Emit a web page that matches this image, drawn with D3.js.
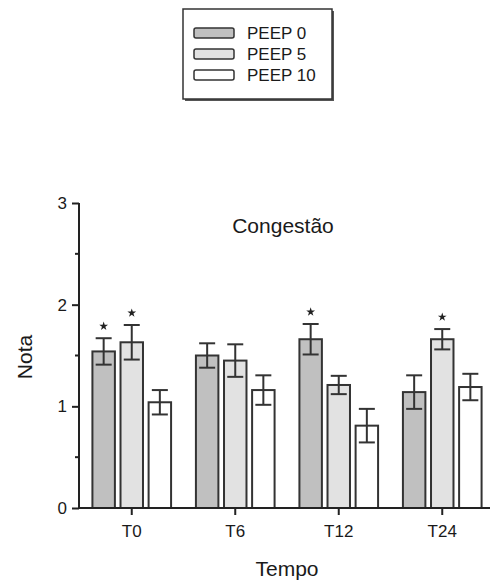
<!DOCTYPE html>
<html>
<head>
<meta charset="utf-8">
<script src="https://cdn.jsdelivr.net/npm/d3@7"></script>
<style>
  body { margin: 0; background: #fff; }
  text { font-family: "Liberation Sans", Arial, sans-serif; fill: #1a1a1a; }
</style>
</head>
<body>
<svg id="chart" width="491" height="583"></svg>
<script>
// data
var categories = ["T0", "T6", "T12", "T24"];
var series = ["PEEP 0", "PEEP 5", "PEEP 10"];
var peep0 = [1.54, 1.50, 1.66, 1.14];
var peep5 = [1.63, 1.45, 1.21, 1.66];
var peep10 = [1.04, 1.16, 0.81, 1.19];
var err0 = [0.13, 0.12, 0.15, 0.165];
var err5 = [0.17, 0.16, 0.09, 0.10];
var err10 = [0.12, 0.145, 0.165, 0.13];
// significance markers (1 = star)
var sig0 = [1, 0, 1, 0];
var sig5 = [1, 0, 0, 1];
var sig10 = [0, 0, 0, 0];
var yTicks = [0, 1, 2, 3];
var yMinor = [0.5, 1.5, 2.5];

var values = [peep0, peep5, peep10];
var errors = [err0, err5, err10];
var sigs = [sig0, sig5, sig10];
var fills = ["#c0c0c0", "#e2e2e2", "#ffffff"];

var svg = d3.select("#chart");

var x0 = d3.scaleBand()
  .domain(categories)
  .range([80, 494])
  .paddingInner(0.24)
  .paddingOuter(0.12);

var x1 = d3.scaleBand()
  .domain(series)
  .range([0, x0.bandwidth()])
  .paddingInner(0.2);

var y = d3.scaleLinear()
  .domain([0, 3])
  .range([508, 203]);

var color = d3.scaleOrdinal().domain(series).range(fills);

// flatten into one record per bar
var bars = [];
categories.forEach(function(c, i) {
  series.forEach(function(s, j) {
    bars.push({cat: c, ser: s, v: values[j][i], e: errors[j][i], sig: sigs[j][i]});
  });
});

var g = svg.append("g");

// bars
g.selectAll("rect.bar")
  .data(bars)
  .join("rect")
  .attr("class", "bar")
  .attr("x", function(d) { return x0(d.cat) + x1(d.ser); })
  .attr("y", function(d) { return y(d.v); })
  .attr("width", x1.bandwidth())
  .attr("height", function(d) { return y(0) - y(d.v); })
  .attr("fill", function(d) { return color(d.ser); })
  .attr("stroke", "#333")
  .attr("stroke-width", 2);

// error bars
var capW = 8;
var eb = g.selectAll("g.err")
  .data(bars)
  .join("g")
  .attr("class", "err")
  .attr("transform", function(d) { return "translate(" + (x0(d.cat) + x1(d.ser) + x1.bandwidth() / 2) + ",0)"; })
  .attr("stroke", "#333")
  .attr("stroke-width", 2);

eb.append("line")
  .attr("y1", function(d) { return y(d.v - d.e); })
  .attr("y2", function(d) { return y(d.v + d.e); });
eb.append("line")
  .attr("x1", -capW).attr("x2", capW)
  .attr("y1", function(d) { return y(d.v + d.e); })
  .attr("y2", function(d) { return y(d.v + d.e); });
eb.append("line")
  .attr("x1", -capW).attr("x2", capW)
  .attr("y1", function(d) { return y(d.v - d.e); })
  .attr("y2", function(d) { return y(d.v - d.e); });

// stars
g.selectAll("path.star")
  .data(bars.filter(function(d) { return d.sig; }))
  .join("path")
  .attr("class", "star")
  .attr("d", d3.symbol().type(d3.symbolStar).size(24))
  .attr("transform", function(d) {
    return "translate(" + (x0(d.cat) + x1(d.ser) + x1.bandwidth() / 2) + "," + (y(d.v + d.e) - 12) + ")";
  })
  .attr("fill", "#222");

// y axis
var yAxis = svg.append("g")
  .attr("transform", "translate(79,0)")
  .call(d3.axisLeft(y).tickValues(yTicks).tickFormat(d3.format("d")).tickSize(7).tickPadding(5));
yAxis.select(".domain").attr("d", "M0," + y(0) + "V" + y(3)).attr("stroke", "#222").attr("stroke-width", 2);
yAxis.selectAll(".tick line").attr("stroke", "#222").attr("stroke-width", 2);
yAxis.selectAll("text").style("font-size", "17px").attr("fill", "#1a1a1a");

svg.append("g")
  .attr("transform", "translate(79,0)")
  .selectAll("line")
  .data(yMinor)
  .join("line")
  .attr("x1", -4).attr("x2", 0)
  .attr("y1", function(d) { return y(d); })
  .attr("y2", function(d) { return y(d); })
  .attr("stroke", "#222").attr("stroke-width", 2);

// x axis
var xAxis = svg.append("g")
  .attr("transform", "translate(0," + y(0) + ")")
  .call(d3.axisBottom(x0).tickSize(7).tickPadding(10));
xAxis.select(".domain").attr("d", "M78,0H490").attr("stroke", "#222").attr("stroke-width", 2);
xAxis.selectAll(".tick line").attr("stroke", "#222").attr("stroke-width", 2);
xAxis.selectAll("text").style("font-size", "17px").attr("fill", "#1a1a1a");

// titles
svg.append("text")
  .attr("x", 283).attr("y", 233)
  .attr("text-anchor", "middle")
  .style("font-size", "21px")
  .text("Congestão");

svg.append("text")
  .attr("x", 287).attr("y", 576)
  .attr("text-anchor", "middle")
  .style("font-size", "21px")
  .text("Tempo");

svg.append("text")
  .attr("transform", "translate(32,357) rotate(-90)")
  .attr("text-anchor", "middle")
  .style("font-size", "21px")
  .text("Nota");

// legend
var leg = svg.append("g");
leg.append("rect")
  .attr("x", 185).attr("y", 11).attr("width", 149).attr("height", 90)
  .attr("fill", "#555");
leg.append("rect")
  .attr("x", 183).attr("y", 9).attr("width", 149).attr("height", 90)
  .attr("fill", "#fff").attr("stroke", "#333").attr("stroke-width", 1.5);

var legY = d3.scalePoint().domain(series).range([33, 75]);
var items = leg.selectAll("g.item")
  .data(series)
  .join("g")
  .attr("class", "item")
  .attr("transform", function(d) { return "translate(0," + legY(d) + ")"; });
items.append("rect")
  .attr("x", 194).attr("y", -5).attr("width", 40).attr("height", 10)
  .attr("rx", 2)
  .attr("fill", function(d) { return color(d); })
  .attr("stroke", "#333").attr("stroke-width", 1.5);
items.append("text")
  .attr("x", 247).attr("y", 6)
  .style("font-size", "17px")
  .text(function(d) { return d; });
</script>
</body>
</html>
